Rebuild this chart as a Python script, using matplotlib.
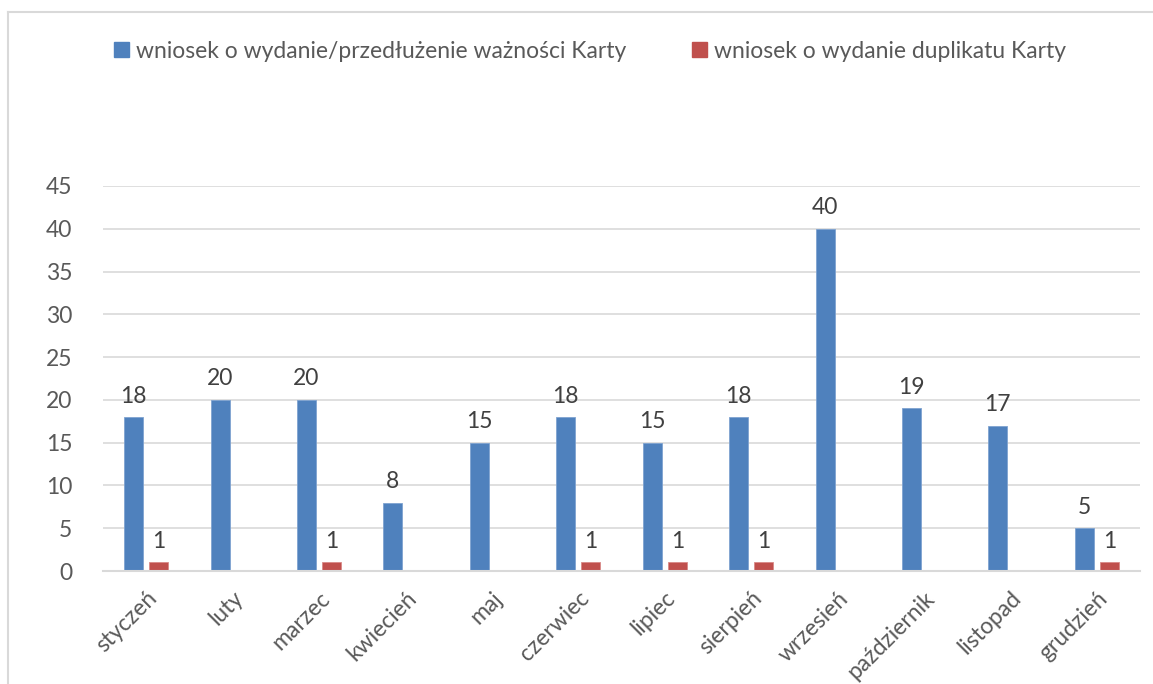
import matplotlib
matplotlib.use("Agg")
import matplotlib.pyplot as plt
import numpy as np
from matplotlib.patches import Patch
from matplotlib.lines import Line2D
from matplotlib.transforms import ScaledTranslation

months = ["styczeń", "luty", "marzec", "kwiecień", "maj", "czerwiec", "lipiec",
          "sierpień", "wrzesień", "październik", "listopad", "grudzień"]
wydanie = [18, 20, 20, 8, 15, 18, 15, 18, 40, 19, 17, 5]
duplikat = [1, 0, 1, 0, 0, 1, 1, 1, 0, 0, 0, 1]
series_names = ["wniosek o wydanie/przedłużenie ważności Karty",
                "wniosek o wydanie duplikatu Karty"]
yticks = [0, 5, 10, 15, 20, 25, 30, 35, 40, 45]

BLUE = "#4F81BD"
RED = "#C0504D"
TXT = "#595959"
GRID = "#D9D9D9"
FS = 16.5

plt.rcParams['font.family'] = ['Lato', 'DejaVu Sans']

fig = plt.figure(figsize=(11.53, 6.84), dpi=100)
ax = fig.add_axes([103/1153, 1-571/684, (1140-103)/1153, (571-186)/684])

x = np.arange(len(months))
w = 0.22
off = 0.145
ax.bar(x - off, wydanie, w, color=BLUE, edgecolor="#7FA3D0", linewidth=0.6, zorder=3)
ax.bar(x + off, duplikat, w, color=RED, edgecolor="#D98A88", linewidth=0.6, zorder=3)

for xi, v in zip(x, wydanie):
    ax.annotate(str(v), (xi - off, v), xytext=(0, 7.5), textcoords="offset points",
                ha="center", va="bottom", fontsize=FS, color="#404040")
for xi, v in zip(x, duplikat):
    if v > 0:
        ax.annotate(str(v), (xi + off, v), xytext=(0, 7.5), textcoords="offset points",
                    ha="center", va="bottom", fontsize=FS, color="#404040")

ax.set_xlim(-0.5, len(months) - 0.5)
ax.set_ylim(0, 45)
ax.set_yticks(yticks)
ax.set_yticklabels([str(t) for t in yticks])
ax.set_xticks(x)
ax.set_xticklabels(months, rotation=45, ha="right", rotation_mode="anchor")
for lab in ax.get_xticklabels():
    lab.set_transform(lab.get_transform() + ScaledTranslation(6/100, 0, fig.dpi_scale_trans))
ax.tick_params(axis="both", length=0, labelsize=FS, labelcolor=TXT)
ax.tick_params(axis="y", pad=22)
ax.tick_params(axis="x", pad=12)
ax.grid(axis="y", color=GRID, linewidth=1.2, zorder=0)
for s in ["top", "right", "left"]:
    ax.spines[s].set_visible(False)
ax.spines["bottom"].set_color(GRID)
ax.spines["bottom"].set_linewidth(1.5)
ax.spines["bottom"].set_zorder(4)

handles = [Patch(facecolor=BLUE, edgecolor=BLUE), Patch(facecolor=RED, edgecolor=RED)]
fig.legend(handles, series_names, loc="center", bbox_to_anchor=(590/1153, 1-51/684),
           ncol=2, frameon=False, fontsize=FS, labelcolor=TXT,
           handlelength=0.65, handleheight=0.65, handletextpad=0.3, columnspacing=2.9)

# outer border (top and left visible)
fig.add_artist(Line2D([8/1153, 8/1153], [0, 1-12/684], transform=fig.transFigure,
                      color=GRID, linewidth=1.5))
fig.add_artist(Line2D([8/1153, 1], [1-12/684, 1-12/684], transform=fig.transFigure,
                      color=GRID, linewidth=1.5))

fig.savefig("out.png", dpi=100)
